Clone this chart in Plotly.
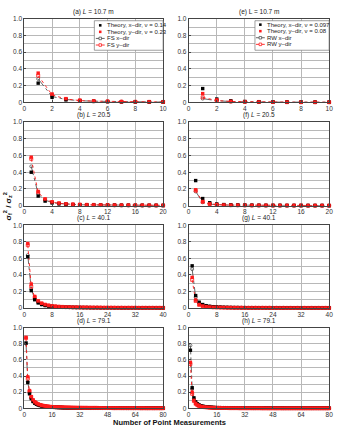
import plotly.graph_objects as go
from plotly.subplots import make_subplots

# ---------------- data ----------------
# Left column: Theory vs FS ; Right column: Theory vs RW
a_tx = [0.23, 0.06, 0.03, 0.018, 0.012, 0.009, 0.007, 0.006, 0.005, 0.004]
a_ty = [0.35, 0.10, 0.045, 0.025, 0.016, 0.012, 0.009, 0.007, 0.006, 0.005]
a_fx = [0.28, 0.07, 0.035, 0.02, 0.014, 0.01, 0.008, 0.006, 0.005, 0.004]
a_fy = [0.32, 0.09, 0.04, 0.022, 0.015, 0.011, 0.008, 0.007, 0.006, 0.005]

e_tx = [0.165, 0.04, 0.018, 0.01, 0.007, 0.005, 0.004, 0.003, 0.003, 0.002]
e_ty = [0.105, 0.03, 0.012, 0.007, 0.005, 0.003, 0.003, 0.002, 0.002, 0.002]
e_rx = [0.045, 0.02, 0.01, 0.006, 0.004, 0.003, 0.003, 0.002, 0.002, 0.002]
e_ry = [0.06, 0.022, 0.011, 0.007, 0.005, 0.004, 0.003, 0.002, 0.002, 0.002]

b_tx = [0.40, 0.115, 0.055, 0.033, 0.022, 0.016, 0.012, 0.01, 0.008, 0.007,
        0.006, 0.005, 0.005, 0.004, 0.004, 0.003, 0.003, 0.003, 0.003, 0.002]
b_ty = [0.58, 0.17, 0.08, 0.045, 0.03, 0.021, 0.016, 0.013, 0.01, 0.009,
        0.008, 0.007, 0.006, 0.005, 0.005, 0.004, 0.004, 0.004, 0.003, 0.003]
b_fx = [0.47, 0.14, 0.065, 0.038, 0.025, 0.018, 0.014, 0.011, 0.009, 0.008,
        0.007, 0.006, 0.005, 0.005, 0.004, 0.004, 0.003, 0.003, 0.003, 0.003]
b_fy = [0.56, 0.16, 0.075, 0.043, 0.028, 0.02, 0.015, 0.012, 0.01, 0.009,
        0.008, 0.007, 0.006, 0.005, 0.005, 0.004, 0.004, 0.004, 0.003, 0.003]

f_tx = [0.30, 0.085, 0.035, 0.02, 0.013, 0.009, 0.007, 0.006, 0.005, 0.004,
        0.003, 0.003, 0.003, 0.002, 0.002, 0.002, 0.002, 0.002, 0.002, 0.001]
f_ty = [0.19, 0.05, 0.022, 0.013, 0.009, 0.006, 0.005, 0.004, 0.003, 0.003,
        0.003, 0.002, 0.002, 0.002, 0.002, 0.002, 0.001, 0.001, 0.001, 0.001]
f_rx = [0.17, 0.04, 0.018, 0.011, 0.008, 0.006, 0.005, 0.004, 0.003, 0.003,
        0.002, 0.002, 0.002, 0.002, 0.002, 0.001, 0.001, 0.001, 0.001, 0.001]
f_ry = [0.18, 0.045, 0.02, 0.012, 0.008, 0.006, 0.005, 0.004, 0.003, 0.003,
        0.003, 0.002, 0.002, 0.002, 0.002, 0.002, 0.001, 0.001, 0.001, 0.001]

c_tx = [0.62, 0.21, 0.10, 0.062, 0.042, 0.03, 0.023, 0.018, 0.015, 0.012,
        0.010, 0.009, 0.008, 0.007, 0.006, 0.006, 0.005, 0.005, 0.004, 0.004,
        0.004, 0.003, 0.003, 0.003, 0.003, 0.003, 0.003, 0.002, 0.002, 0.002,
        0.002, 0.002, 0.002, 0.002, 0.002, 0.002, 0.002, 0.001, 0.001, 0.001]
c_ty = [0.78, 0.29, 0.14, 0.085, 0.057, 0.041, 0.031, 0.024, 0.02, 0.016,
        0.014, 0.012, 0.010, 0.009, 0.008, 0.007, 0.007, 0.006, 0.006, 0.005,
        0.005, 0.005, 0.004, 0.004, 0.004, 0.004, 0.003, 0.003, 0.003, 0.003,
        0.003, 0.003, 0.003, 0.002, 0.002, 0.002, 0.002, 0.002, 0.002, 0.002]
c_fx = [0.64, 0.23, 0.11, 0.066, 0.045, 0.032, 0.025, 0.019, 0.016, 0.013,
        0.011, 0.009, 0.008, 0.007, 0.007, 0.006, 0.005, 0.005, 0.005, 0.004,
        0.004, 0.004, 0.003, 0.003, 0.003, 0.003, 0.003, 0.003, 0.002, 0.002,
        0.002, 0.002, 0.002, 0.002, 0.002, 0.002, 0.002, 0.002, 0.001, 0.001]
c_fy = [0.76, 0.26, 0.13, 0.08, 0.054, 0.039, 0.03, 0.023, 0.019, 0.016,
        0.013, 0.011, 0.010, 0.009, 0.008, 0.007, 0.006, 0.006, 0.005, 0.005,
        0.005, 0.004, 0.004, 0.004, 0.004, 0.003, 0.003, 0.003, 0.003, 0.003,
        0.003, 0.003, 0.002, 0.002, 0.002, 0.002, 0.002, 0.002, 0.002, 0.002]

g_tx = [0.51, 0.15, 0.07, 0.042, 0.028, 0.02, 0.015, 0.012, 0.01, 0.008,
        0.007, 0.006, 0.005, 0.005, 0.004, 0.004, 0.003, 0.003, 0.003, 0.003,
        0.003, 0.002, 0.002, 0.002, 0.002, 0.002, 0.002, 0.002, 0.002, 0.002,
        0.002, 0.001, 0.001, 0.001, 0.001, 0.001, 0.001, 0.001, 0.001, 0.001]
g_ty = [0.37, 0.095, 0.042, 0.025, 0.017, 0.012, 0.009, 0.007, 0.006, 0.005,
        0.004, 0.004, 0.003, 0.003, 0.003, 0.002, 0.002, 0.002, 0.002, 0.002,
        0.002, 0.002, 0.002, 0.001, 0.001, 0.001, 0.001, 0.001, 0.001, 0.001,
        0.001, 0.001, 0.001, 0.001, 0.001, 0.001, 0.001, 0.001, 0.001, 0.001]
g_rx = [0.47, 0.13, 0.06, 0.036, 0.024, 0.017, 0.013, 0.011, 0.009, 0.007,
        0.006, 0.005, 0.005, 0.004, 0.004, 0.003, 0.003, 0.003, 0.003, 0.002,
        0.002, 0.002, 0.002, 0.002, 0.002, 0.002, 0.002, 0.002, 0.001, 0.001,
        0.001, 0.001, 0.001, 0.001, 0.001, 0.001, 0.001, 0.001, 0.001, 0.001]
g_ry = [0.34, 0.085, 0.038, 0.022, 0.015, 0.011, 0.008, 0.007, 0.006, 0.005,
        0.004, 0.004, 0.003, 0.003, 0.003, 0.002, 0.002, 0.002, 0.002, 0.002,
        0.002, 0.002, 0.002, 0.001, 0.001, 0.001, 0.001, 0.001, 0.001, 0.001,
        0.001, 0.001, 0.001, 0.001, 0.001, 0.001, 0.001, 0.001, 0.001, 0.001]

d_tx = [0.81, 0.32, 0.18, 0.12, 0.085, 0.064, 0.051, 0.042, 0.035, 0.030,
        0.026, 0.022, 0.020, 0.018, 0.016, 0.014, 0.013, 0.012, 0.011, 0.010,
        0.010, 0.009, 0.008, 0.008, 0.007, 0.007, 0.007, 0.006, 0.006, 0.006,
        0.006, 0.005, 0.005, 0.005, 0.005, 0.005, 0.004, 0.004, 0.004, 0.004,
        0.004, 0.004, 0.004, 0.003, 0.003, 0.003, 0.003, 0.003, 0.003, 0.003,
        0.003, 0.003, 0.003, 0.003, 0.003, 0.002, 0.002, 0.002, 0.002, 0.002,
        0.002, 0.002, 0.002, 0.002, 0.002, 0.002, 0.002, 0.002, 0.002, 0.002,
        0.002, 0.002, 0.002, 0.002, 0.002, 0.002, 0.002, 0.002, 0.001, 0.001]
d_ty = [0.88, 0.39, 0.22, 0.145, 0.105, 0.08, 0.064, 0.052, 0.044, 0.037,
        0.032, 0.028, 0.025, 0.022, 0.020, 0.018, 0.017, 0.015, 0.014, 0.013,
        0.012, 0.012, 0.011, 0.010, 0.010, 0.009, 0.009, 0.008, 0.008, 0.008,
        0.007, 0.007, 0.007, 0.006, 0.006, 0.006, 0.006, 0.006, 0.005, 0.005,
        0.005, 0.005, 0.005, 0.005, 0.004, 0.004, 0.004, 0.004, 0.004, 0.004,
        0.004, 0.004, 0.004, 0.003, 0.003, 0.003, 0.003, 0.003, 0.003, 0.003,
        0.003, 0.003, 0.003, 0.003, 0.003, 0.003, 0.003, 0.003, 0.003, 0.002,
        0.002, 0.002, 0.002, 0.002, 0.002, 0.002, 0.002, 0.002, 0.002, 0.002]
d_fx = [0.80, 0.33, 0.19, 0.125, 0.088, 0.066, 0.052, 0.043, 0.036, 0.031,
        0.027, 0.023, 0.021, 0.018, 0.016, 0.015, 0.014, 0.013, 0.012, 0.011,
        0.010, 0.009, 0.009, 0.008, 0.008, 0.007, 0.007, 0.007, 0.006, 0.006,
        0.006, 0.005, 0.005, 0.005, 0.005, 0.005, 0.004, 0.004, 0.004, 0.004,
        0.004, 0.004, 0.004, 0.004, 0.003, 0.003, 0.003, 0.003, 0.003, 0.003,
        0.003, 0.003, 0.003, 0.003, 0.003, 0.003, 0.002, 0.002, 0.002, 0.002,
        0.002, 0.002, 0.002, 0.002, 0.002, 0.002, 0.002, 0.002, 0.002, 0.002,
        0.002, 0.002, 0.002, 0.002, 0.002, 0.002, 0.002, 0.002, 0.002, 0.002]
d_fy = [0.87, 0.37, 0.21, 0.14, 0.10, 0.077, 0.061, 0.050, 0.042, 0.036,
        0.031, 0.027, 0.024, 0.021, 0.019, 0.017, 0.016, 0.015, 0.014, 0.013,
        0.012, 0.011, 0.010, 0.010, 0.009, 0.009, 0.008, 0.008, 0.008, 0.007,
        0.007, 0.007, 0.006, 0.006, 0.006, 0.006, 0.005, 0.005, 0.005, 0.005,
        0.005, 0.005, 0.004, 0.004, 0.004, 0.004, 0.004, 0.004, 0.004, 0.004,
        0.003, 0.003, 0.003, 0.003, 0.003, 0.003, 0.003, 0.003, 0.003, 0.003,
        0.003, 0.003, 0.003, 0.003, 0.003, 0.003, 0.002, 0.002, 0.002, 0.002,
        0.002, 0.002, 0.002, 0.002, 0.002, 0.002, 0.002, 0.002, 0.002, 0.002]

h_tx = [0.72, 0.255, 0.13, 0.08, 0.056, 0.041, 0.032, 0.026, 0.021, 0.018,
        0.015, 0.013, 0.012, 0.010, 0.009, 0.008, 0.008, 0.007, 0.007, 0.006,
        0.006, 0.005, 0.005, 0.005, 0.004, 0.004, 0.004, 0.004, 0.004, 0.003,
        0.003, 0.003, 0.003, 0.003, 0.003, 0.003, 0.003, 0.002, 0.002, 0.002,
        0.002, 0.002, 0.002, 0.002, 0.002, 0.002, 0.002, 0.002, 0.002, 0.002,
        0.002, 0.002, 0.002, 0.002, 0.001, 0.001, 0.001, 0.001, 0.001, 0.001,
        0.001, 0.001, 0.001, 0.001, 0.001, 0.001, 0.001, 0.001, 0.001, 0.001,
        0.001, 0.001, 0.001, 0.001, 0.001, 0.001, 0.001, 0.001, 0.001, 0.001]
h_ty = [0.57, 0.20, 0.10, 0.062, 0.043, 0.032, 0.025, 0.020, 0.016, 0.014,
        0.012, 0.010, 0.009, 0.008, 0.007, 0.006, 0.006, 0.005, 0.005, 0.004,
        0.004, 0.004, 0.004, 0.003, 0.003, 0.003, 0.003, 0.003, 0.003, 0.002,
        0.002, 0.002, 0.002, 0.002, 0.002, 0.002, 0.002, 0.002, 0.002, 0.002,
        0.002, 0.002, 0.001, 0.001, 0.001, 0.001, 0.001, 0.001, 0.001, 0.001,
        0.001, 0.001, 0.001, 0.001, 0.001, 0.001, 0.001, 0.001, 0.001, 0.001,
        0.001, 0.001, 0.001, 0.001, 0.001, 0.001, 0.001, 0.001, 0.001, 0.001,
        0.001, 0.001, 0.001, 0.001, 0.001, 0.001, 0.001, 0.001, 0.001, 0.001]
h_rx = [0.78, 0.24, 0.12, 0.075, 0.052, 0.038, 0.030, 0.024, 0.020, 0.017,
        0.014, 0.012, 0.011, 0.010, 0.009, 0.008, 0.007, 0.007, 0.006, 0.006,
        0.005, 0.005, 0.005, 0.004, 0.004, 0.004, 0.004, 0.003, 0.003, 0.003,
        0.003, 0.003, 0.003, 0.003, 0.003, 0.002, 0.002, 0.002, 0.002, 0.002,
        0.002, 0.002, 0.002, 0.002, 0.002, 0.002, 0.002, 0.002, 0.002, 0.002,
        0.002, 0.002, 0.001, 0.001, 0.001, 0.001, 0.001, 0.001, 0.001, 0.001,
        0.001, 0.001, 0.001, 0.001, 0.001, 0.001, 0.001, 0.001, 0.001, 0.001,
        0.001, 0.001, 0.001, 0.001, 0.001, 0.001, 0.001, 0.001, 0.001, 0.001]
h_ry = [0.55, 0.18, 0.09, 0.056, 0.039, 0.029, 0.023, 0.018, 0.015, 0.013,
        0.011, 0.009, 0.008, 0.007, 0.006, 0.006, 0.005, 0.005, 0.004, 0.004,
        0.004, 0.004, 0.003, 0.003, 0.003, 0.003, 0.003, 0.003, 0.002, 0.002,
        0.002, 0.002, 0.002, 0.002, 0.002, 0.002, 0.002, 0.002, 0.002, 0.002,
        0.002, 0.001, 0.001, 0.001, 0.001, 0.001, 0.001, 0.001, 0.001, 0.001,
        0.001, 0.001, 0.001, 0.001, 0.001, 0.001, 0.001, 0.001, 0.001, 0.001,
        0.001, 0.001, 0.001, 0.001, 0.001, 0.001, 0.001, 0.001, 0.001, 0.001,
        0.001, 0.001, 0.001, 0.001, 0.001, 0.001, 0.001, 0.001, 0.001, 0.001]

panel_titles = ["(a) <i>L</i> = 10.7 m", "(e) L = 10.7 m",
                "(b) <i>L</i> = 20.5", "(f) <i>L</i> = 20.5",
                "(c) <i>L</i> = 40.1", "(g) <i>L</i> = 40.1",
                "(d) <i>L</i> = 79.1", "(h) <i>L</i> = 79.1"]
x_max = [10, 20, 40, 80]
x_step = [2, 4, 8, 16]
y_ticks = [0, 0.2, 0.4, 0.6, 0.8, 1.0]
y_ticktext = ["0", "0.2", "0.4", "0.6", "0.8", "1.0"]

legend_left = ["Theory, x\u2013dir, \u03bd = 0.14", "Theory, y\u2013dir, \u03bd = 0.23",
               "FS x\u2013dir", "FS y\u2013dir"]
legend_right = ["Theory, x\u2013dir, \u03bd = 0.097", "Theory, y\u2013dir, \u03bd = 0.08",
                "RW x\u2013dir", "RW y\u2013dir"]

# ---------------- figure ----------------
W, H = 340, 431
FONT = "Liberation Sans, Arial, sans-serif"
BLACK = "#000000"
RED = "#ff1a1a"
GRAY = "#555555"
GRID = "#b8b8b8"

panels = [
    (1, 1, a_tx, a_ty, a_fx, a_fy), (1, 2, e_tx, e_ty, e_rx, e_ry),
    (2, 1, b_tx, b_ty, b_fx, b_fy), (2, 2, f_tx, f_ty, f_rx, f_ry),
    (3, 1, c_tx, c_ty, c_fx, c_fy), (3, 2, g_tx, g_ty, g_rx, g_ry),
    (4, 1, d_tx, d_ty, d_fx, d_fy), (4, 2, h_tx, h_ty, h_rx, h_ry),
]

fig = make_subplots(rows=4, cols=2)

col_dom = {1: [22.7 / W, 164 / W], 2: [190 / W, 333 / W]}
row_px = {1: (15, 100), 2: (120, 205), 3: (225, 309), 4: (329, 411)}
row_dom = {r: [1 - b / H, 1 - t / H] for r, (t, b) in row_px.items()}

for (r, c, tx, ty, mx, my) in panels:
    n = list(range(1, len(tx) + 1))
    fig.add_trace(go.Scatter(x=n, y=mx, mode="lines+markers", cliponaxis=False,
                             line=dict(color=GRAY, width=0.9, dash="dashdot"),
                             marker=dict(symbol="circle-open", size=3, color=GRAY,
                                         line=dict(width=0.8)),
                             showlegend=False), row=r, col=c)
    fig.add_trace(go.Scatter(x=n, y=my, mode="lines+markers", cliponaxis=False,
                             line=dict(color=RED, width=0.9, dash="dot"),
                             marker=dict(symbol="square-open", size=3, color=RED,
                                         line=dict(width=0.8)),
                             showlegend=False), row=r, col=c)
    fig.add_trace(go.Scatter(x=n, y=tx, mode="markers", cliponaxis=False,
                             marker=dict(symbol="square", size=3.4, color=BLACK),
                             showlegend=False), row=r, col=c)
    fig.add_trace(go.Scatter(x=n, y=ty, mode="markers", cliponaxis=False,
                             marker=dict(symbol="square", size=3.4, color=RED),
                             showlegend=False), row=r, col=c)

axis_common = dict(showline=True, linecolor="#444", linewidth=0.8, mirror=True,
                   ticks="inside", ticklen=2, tickcolor="#444", tickwidth=0.8,
                   tickfont=dict(family=FONT, size=6.5, color="#333"),
                   showgrid=True, gridcolor=GRID, gridwidth=0.7, zeroline=False)

idx = 0
for r in range(1, 5):
    for c in range(1, 3):
        idx += 1
        xm, xs = x_max[r - 1], x_step[r - 1]
        xname = "xaxis" if idx == 1 else f"xaxis{idx}"
        yname = "yaxis" if idx == 1 else f"yaxis{idx}"
        fig.layout[xname].update(domain=col_dom[c], range=[0, xm],
                                 tickmode="array", tickvals=list(range(0, xm + 1, xs)),
                                 **axis_common)
        fig.layout[yname].update(domain=row_dom[r], range=[0, 1],
                                 tickmode="array", tickvals=y_ticks, ticktext=y_ticktext,
                                 minor=dict(tickmode="linear", tick0=0, dtick=0.1,
                                            showgrid=True, gridcolor=GRID, gridwidth=0.7,
                                            ticks=""),
                                 **axis_common)
        # subplot title
        fig.add_annotation(x=sum(col_dom[c]) / 2, y=row_dom[r][1] + 1.0 / H,
                           xref="paper", yref="paper", xanchor="center", yanchor="bottom",
                           text=panel_titles[idx - 1], showarrow=False,
                           font=dict(family=FONT, size=6.5, color="#222"))

# ---------------- manual legends ----------------
def px(x):
    return x / W

def py(y):
    return 1 - y / H

def add_legend(x0, x1, y0, y1, sym_x, text_x, ys, labels):
    fig.add_shape(type="rect", xref="paper", yref="paper",
                  x0=px(x0), x1=px(x1), y0=py(y1), y1=py(y0),
                  line=dict(color="#777", width=0.7), fillcolor="white", layer="above")
    styles = [("theory", BLACK), ("theory", RED), ("line", GRAY), ("line", RED)]
    for (kind, col), yy, lab in zip(styles, ys, labels):
        if kind == "theory":
            fig.add_shape(type="rect", xref="paper", yref="paper",
                          x0=px(sym_x - 1.3), x1=px(sym_x + 1.3),
                          y0=py(yy + 1.3), y1=py(yy - 1.3),
                          line=dict(width=0), fillcolor=col, layer="above")
        else:
            fig.add_shape(type="line", xref="paper", yref="paper",
                          x0=px(sym_x - 4.5), x1=px(sym_x + 4.5), y0=py(yy), y1=py(yy),
                          line=dict(color=col, width=0.9,
                                    dash="dashdot" if col == GRAY else "dot"),
                          layer="above")
            fig.add_shape(type="rect", xref="paper", yref="paper",
                          x0=px(sym_x - 1.3), x1=px(sym_x + 1.3),
                          y0=py(yy + 1.3), y1=py(yy - 1.3),
                          line=dict(color=col, width=0.8), fillcolor="white", layer="above")
        fig.add_annotation(x=px(text_x), y=py(yy), xref="paper", yref="paper",
                           xanchor="left", yanchor="middle", text=lab, showarrow=False,
                           font=dict(family=FONT, size=6, color="#222"))

add_legend(94, 164, 17, 47, 100, 105, [21.7, 28.3, 35.0, 41.7], legend_left)
add_legend(257.5, 333, 17, 47, 263, 267.5, [21.0, 27.6, 34.3, 41.0], legend_right)

# ---------------- axis titles ----------------
fig.add_annotation(x=px(6), y=py(205), xref="paper", yref="paper",
                   text="<b>\u03c3<sub>f</sub><sup>2</sup> / \u03c3<sub>z</sub><sup>2</sup></b>",
                   textangle=-90, showarrow=False, xanchor="center", yanchor="middle",
                   font=dict(family=FONT, size=8, color="#111"))
fig.add_annotation(x=px(170), y=0, xref="paper", yref="paper",
                   text="<b>Number of Point Measurements</b>", showarrow=False,
                   xanchor="center", yanchor="bottom", borderpad=0,
                   font=dict(family=FONT, size=7.5, color="#111"))

fig.update_layout(width=W, height=H, margin=dict(l=0, r=0, t=0, b=0),
                  paper_bgcolor="white", plot_bgcolor="white", showlegend=False,
                  font=dict(family=FONT))

fig.write_html("out.html")
